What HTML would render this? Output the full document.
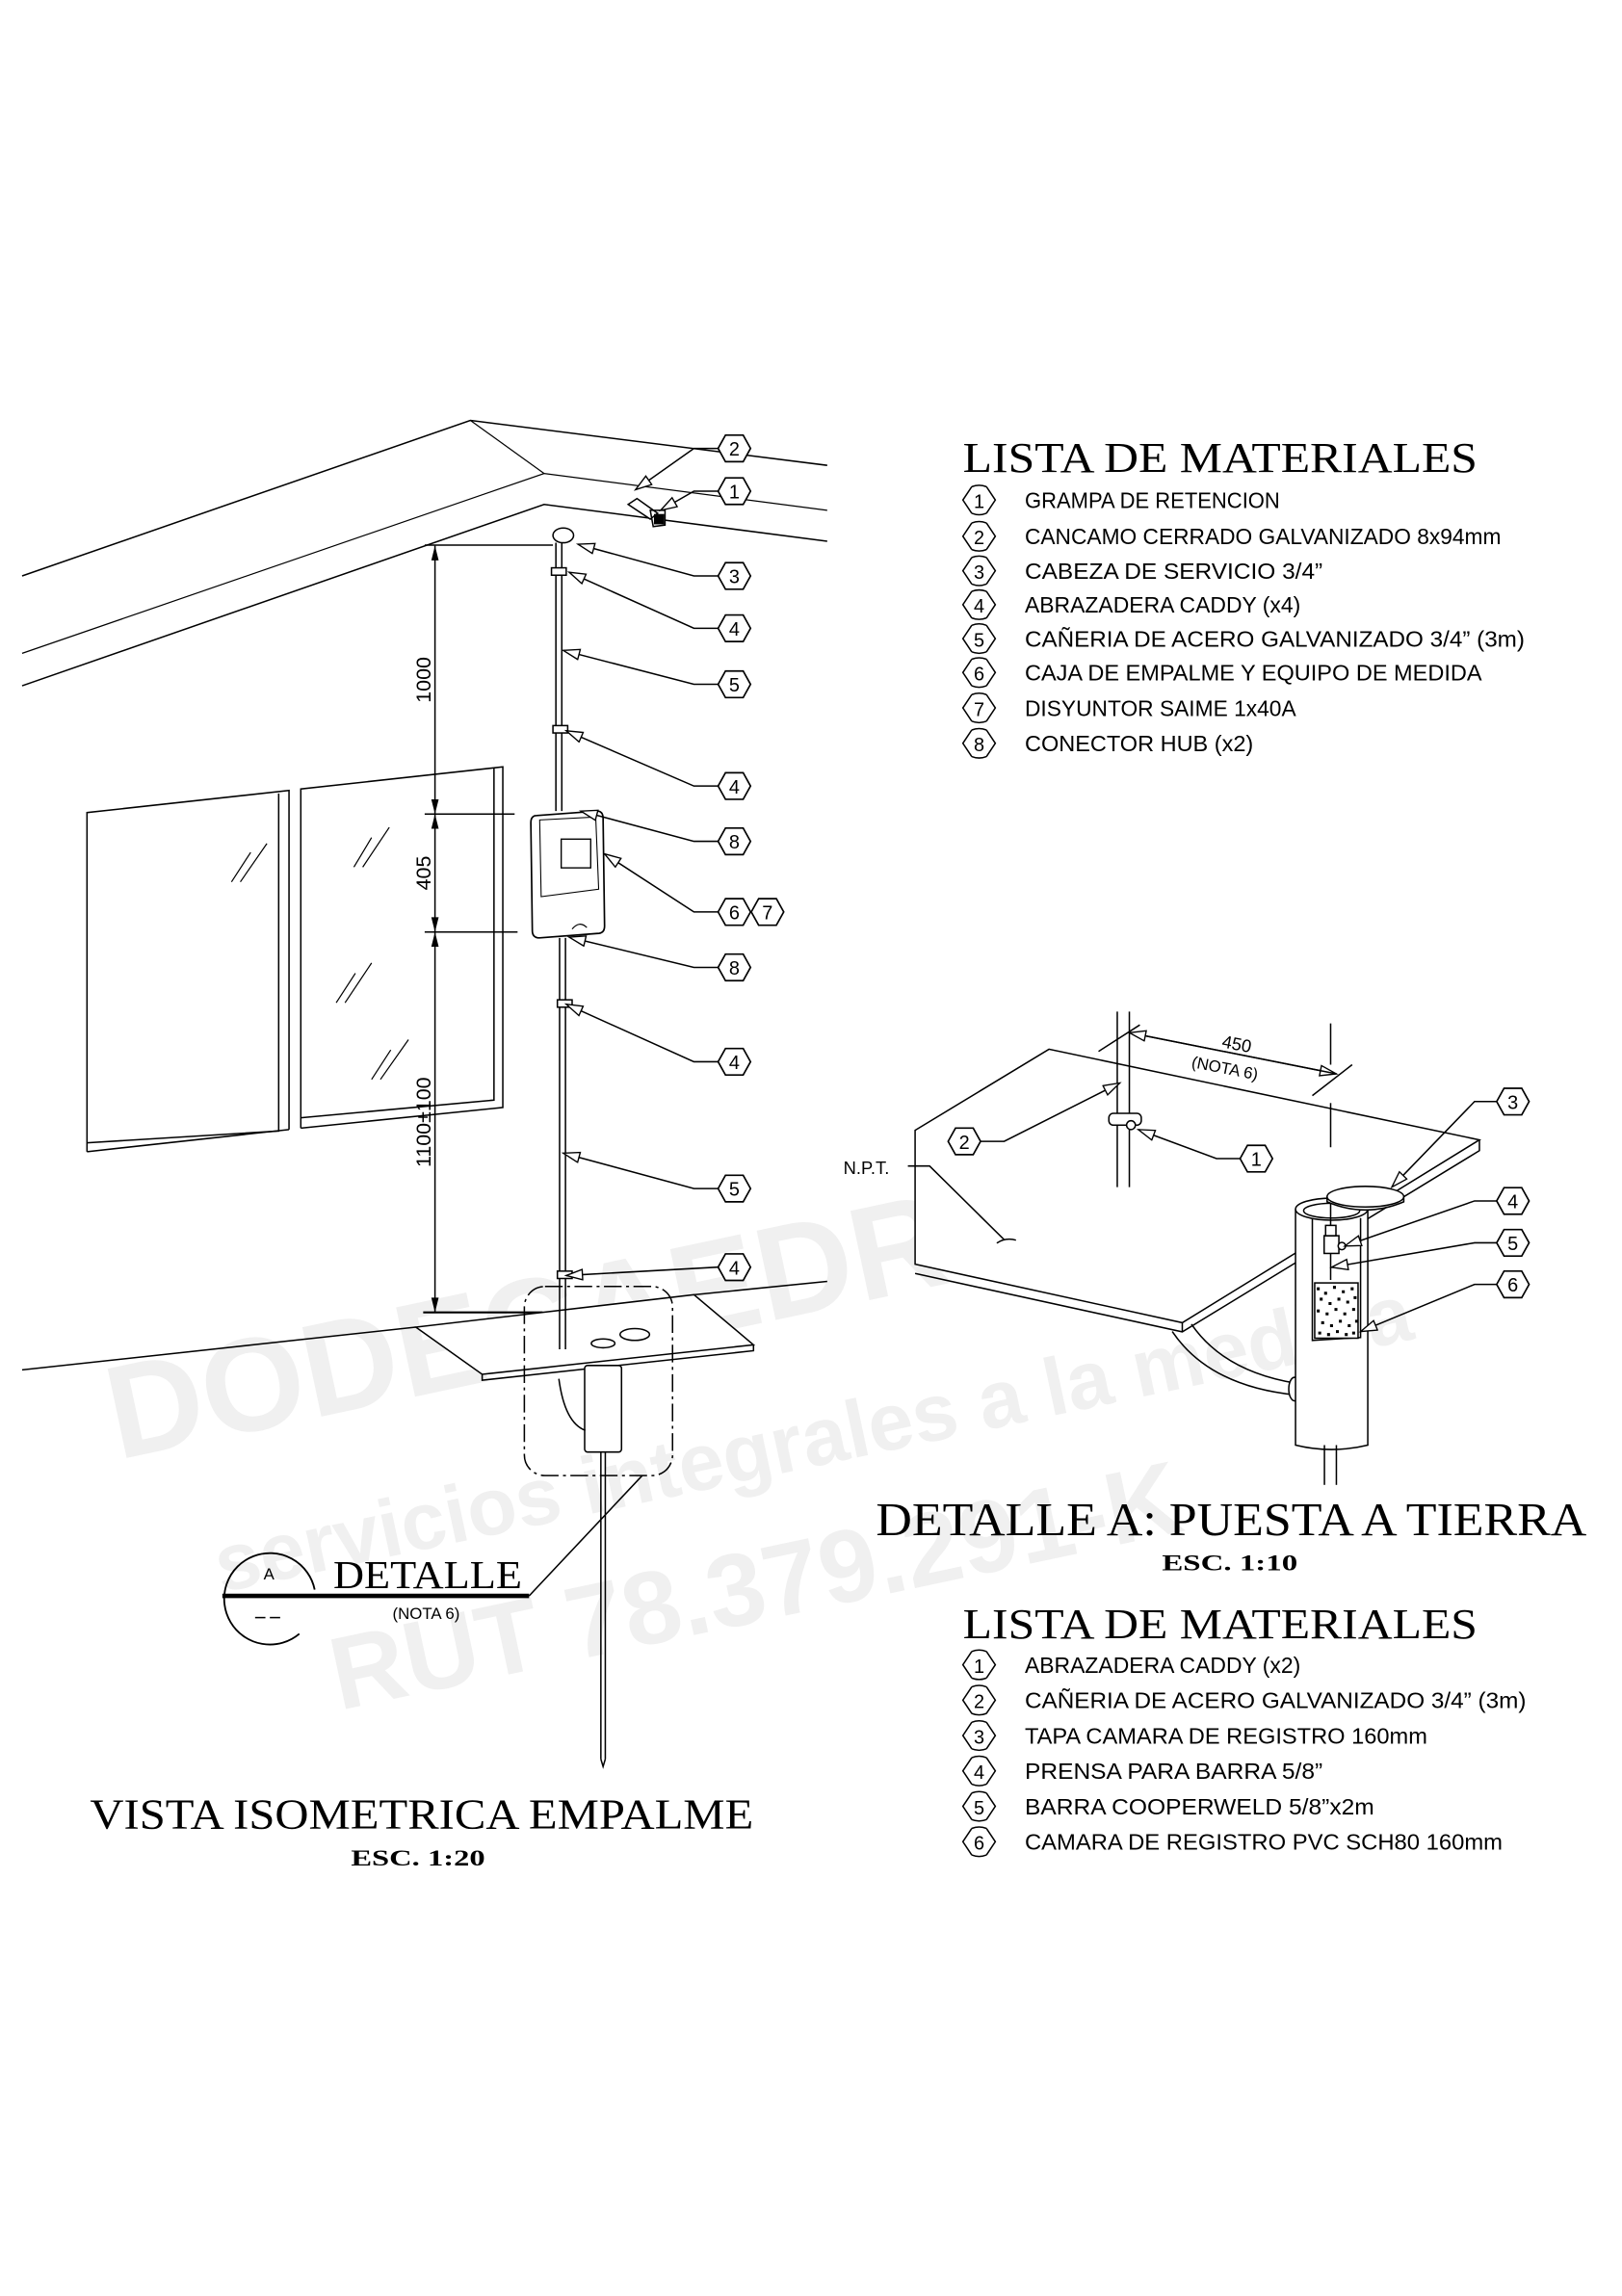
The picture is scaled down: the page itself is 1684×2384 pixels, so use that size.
<!DOCTYPE html>
<html><head><meta charset="utf-8"><style>
html,body{margin:0;padding:0;background:#fff;}
svg{display:block;}
.s{font-family:"Liberation Sans Narrow","Liberation Sans",sans-serif;}
.r{font-family:"Liberation Serif",serif;}
</style></head><body>
<svg width="1684" height="2384" viewBox="0 0 1100 1557" xmlns="http://www.w3.org/2000/svg">
<defs>
<marker id="ar" markerUnits="userSpaceOnUse" markerWidth="14" markerHeight="10" refX="12" refY="4" orient="auto">
<path d="M1,0.5 L12,4 L1,7.5 Z" fill="#fff" stroke="#000" stroke-width="0.9"/>
</marker>
<g id="hx"><polygon points="-11,0 -6,-9 6,-9 11,0 6,9 -6,9" fill="#fff" stroke="#000" stroke-width="1.1"/></g>
<g id="lh"><path d="M-5,-9 L-11,0 L-5,9 M5,-9 L11,0 L5,9 M-5,-9 Q0,-11 5,-9 M-5,9 Q0,11 5,9" fill="none" stroke="#000" stroke-width="1"/></g>
</defs>
<rect width="1100" height="1557" fill="#fff"/>

<!-- faint watermark -->
<g fill="#efefef" font-family="Liberation Sans" font-weight="bold" opacity="0.9">
<text x="80" y="990" font-size="90" transform="rotate(-12 80 990)">DODECAEDRO</text>
<text x="150" y="1080" font-size="55" transform="rotate(-12 150 1080)">servicios integrales a la medida</text>
<text x="230" y="1160" font-size="70" transform="rotate(-12 230 1160)">RUT 78.379.291-K</text>
</g>

<g stroke="#000" fill="none" stroke-width="1">
<!-- roof -->
<polyline points="15,390.5 319,285 561,315.5"/>
<polyline points="15,443 369,321 561,346" stroke-width="0.8"/>
<polyline points="15,465 369,342 561,367"/>
<line x1="319" y1="285" x2="369" y2="321" stroke-width="0.8"/>
<!-- windows -->
<polyline points="59,781 59,551 196,536 196,766"/>
<polyline points="59,775 189,767 189,538"/>
<line x1="59" y1="781" x2="196" y2="766"/>
<polyline points="204,765 204,535 341,520 341,751 204,765"/>
<polyline points="204,758 335,746 335,521"/>
<!-- glass marks -->
<path d="M157,598 L170,578 M163,598 L181,572 M240,588 L252,568 M246,588 L264,561 M228,680 L241,660 M234,680 L252,653 M252,732 L265,712 M258,732 L277,705" stroke-width="0.8"/>
<!-- dimensions -->
<line x1="295" y1="370" x2="295" y2="890"/>
<line x1="288" y1="369.6" x2="375" y2="369.6"/>
<line x1="288" y1="552" x2="349" y2="552"/>
<line x1="288" y1="632" x2="351" y2="632"/>
<line x1="287" y1="890" x2="368" y2="890" stroke-width="1.4"/>
<path d="M295,370 l-2.5,10 l5,0 z M295,552 l-2.5,-10 l5,0 z M295,552 l-2.5,10 l5,0z M295,632 l-2.5,-10 l5,0z M295,632 l-2.5,10 l5,0z M295,890 l-2.5,-10 l5,0z" fill="#000" stroke="none"/>
<!-- ground -->
<polyline points="15,929 282,900"/>
<polyline points="470.6,878 561,869"/>
<polygon points="282,900 327,932 511,912 470.6,878" fill="#fff"/>
<polyline points="327,932 327,936 511,916 511,912"/>
<!-- pipe -->
<line x1="377" y1="368" x2="377" y2="550"/><line x1="381" y1="368" x2="381" y2="550"/>
<line x1="379.5" y1="636" x2="379.5" y2="915"/><line x1="383.5" y1="636" x2="383.5" y2="915"/>
<ellipse cx="382" cy="363" rx="7" ry="5" fill="#fff"/>
<rect x="374" y="385" width="10" height="5" fill="#fff"/>
<rect x="375" y="492" width="10" height="5" fill="#fff"/>
<rect x="378" y="678" width="10" height="5" fill="#fff"/>
<rect x="378" y="862" width="10" height="5" fill="#fff"/>
<!-- grampa -->
<path d="M426,342 L432,338 L446,348 L441,352 Z M441,346 L451,346 L451,356 L443,357 Z" fill="#fff"/>
<rect x="444" y="349" width="6" height="6" fill="#000"/>
<!-- meter box -->
<path d="M364,553 L405,550 Q409,550 409,555 L410,628 Q410,633 405,633 L366,636 Q361,636 361,631 L360,558 Q360,553 364,553 Z" fill="#fff" stroke-width="1.1"/>
<path d="M366,556 L404,554 L406,603 L367,608 Z" stroke-width="0.7"/>
<rect x="380.6" y="569" width="20" height="19.5" stroke-width="0.9"/>
<path d="M388,630 Q393,624 398,629" stroke-width="0.8"/>
<!-- detail box -->
<rect x="355.6" y="872.4" width="100.5" height="128.3" rx="14" stroke-dasharray="12,3,2,3"/>
<ellipse cx="409" cy="911" rx="8" ry="3"/><ellipse cx="430.5" cy="905" rx="10" ry="4" fill="#fff"/>
<rect x="396.5" y="926" width="25" height="58.7" rx="2" fill="#fff"/>
<path d="M379,935 Q383,965 397,970" />
<line x1="407.5" y1="985" x2="407.5" y2="1193"/><line x1="410.5" y1="985" x2="410.5" y2="1193"/>
<path d="M407.5,1193 L409,1198 L410.5,1193"/>
<polyline points="435.5,1000.7 358.8,1082.3"/>
<line x1="150.8" y1="1082.3" x2="358.8" y2="1082.3" stroke-width="3"/>
<path d="M213.4,1078 A31,31 0 1 0 203,1108" stroke-width="1.2"/>
<line x1="173" y1="1097" x2="180" y2="1097"/><line x1="183" y1="1097" x2="190" y2="1097"/>
</g>
<text x="182.4" y="1071" font-size="11" text-anchor="middle" class="s">A</text>
<text x="226" y="1077" font-size="27" class="r" textLength="128" lengthAdjust="spacingAndGlyphs">DETALLE</text>
<text x="289" y="1098" font-size="11" text-anchor="middle" class="s">(NOTA 6)</text>
<g class="s" font-size="14" text-anchor="middle">
<text transform="translate(292,461) rotate(-90)">1000</text>
<text transform="translate(292,592) rotate(-90)">405</text>
<text transform="translate(292,761) rotate(-90)">1100±100</text>
</g>

<!-- callouts left -->
<g stroke="#000" fill="none" stroke-width="1" marker-end="url(#ar)">
<polyline points="487,304 470.6,304 431,332"/>
<polyline points="487,333 470.6,333 448,346"/>
<polyline points="487,390.5 470.6,390.5 392,369"/>
<polyline points="487,426 470.6,426 386,388"/>
<polyline points="487,464 470.6,464 382,441"/>
<polyline points="487,533 470.6,533 384,495.5"/>
<polyline points="487,570.5 470.6,570.5 394,550"/>
<polyline points="487,618.4 470.6,618.4 410,579"/>
<polyline points="487,656 470.6,656 386,635.5"/>
<polyline points="487,720 470.6,720 384,681"/>
<polyline points="487,806 470.6,806 382,782"/>
<polyline points="487,859.3 384,865"/>
</g>
<g class="s" font-size="13" text-anchor="middle">
<use href="#hx" x="498" y="304"/><text x="498" y="309">2</text>
<use href="#hx" x="498" y="333"/><text x="498" y="338">1</text>
<use href="#hx" x="498" y="390.5"/><text x="498" y="395.5">3</text>
<use href="#hx" x="498" y="426"/><text x="498" y="431">4</text>
<use href="#hx" x="498" y="464"/><text x="498" y="469">5</text>
<use href="#hx" x="498" y="533"/><text x="498" y="538">4</text>
<use href="#hx" x="498" y="570.5"/><text x="498" y="575.5">8</text>
<use href="#hx" x="498" y="618.4"/><text x="498" y="623.4">6</text>
<use href="#hx" x="520.5" y="618.4"/><text x="520.5" y="623.4">7</text>
<use href="#hx" x="498" y="656"/><text x="498" y="661">8</text>
<use href="#hx" x="498" y="720"/><text x="498" y="725">4</text>
<use href="#hx" x="498" y="806"/><text x="498" y="811">5</text>
<use href="#hx" x="498" y="859.3"/><text x="498" y="864.3">4</text>
</g>

<text x="61" y="1240" font-size="29" class="r" textLength="450" lengthAdjust="spacingAndGlyphs">VISTA ISOMETRICA EMPALME</text>
<text x="238" y="1265" font-size="15" font-weight="bold" class="r" textLength="91" lengthAdjust="spacingAndGlyphs">ESC. 1:20</text>

<!-- list 1 -->
<text x="653" y="320" font-size="29" class="r" textLength="349" lengthAdjust="spacingAndGlyphs">LISTA DE MATERIALES</text>
<g class="s" font-size="15">
<use href="#lh" x="664" y="339"/><text x="664" y="344.5" text-anchor="middle" font-size="13">1</text><text x="695" y="344.5" textLength="173" lengthAdjust="spacingAndGlyphs">GRAMPA DE RETENCION</text>
<use href="#lh" x="664" y="363.6"/><text x="664" y="369" text-anchor="middle" font-size="13">2</text><text x="695" y="369" textLength="323" lengthAdjust="spacingAndGlyphs">CANCAMO CERRADO GALVANIZADO 8x94mm</text>
<use href="#lh" x="664" y="387"/><text x="664" y="392.4" text-anchor="middle" font-size="13">3</text><text x="695" y="392.4" textLength="202" lengthAdjust="spacingAndGlyphs">CABEZA DE SERVICIO 3/4”</text>
<use href="#lh" x="664" y="410"/><text x="664" y="415.4" text-anchor="middle" font-size="13">4</text><text x="695" y="415.4" textLength="187" lengthAdjust="spacingAndGlyphs">ABRAZADERA CADDY (x4)</text>
<use href="#lh" x="664" y="433"/><text x="664" y="438.4" text-anchor="middle" font-size="13">5</text><text x="695" y="438.4" textLength="339" lengthAdjust="spacingAndGlyphs">CAÑERIA DE ACERO GALVANIZADO 3/4” (3m)</text>
<use href="#lh" x="664" y="456"/><text x="664" y="461.4" text-anchor="middle" font-size="13">6</text><text x="695" y="461.4" textLength="310" lengthAdjust="spacingAndGlyphs">CAJA DE EMPALME Y EQUIPO DE MEDIDA</text>
<use href="#lh" x="664" y="480"/><text x="664" y="485.4" text-anchor="middle" font-size="13">7</text><text x="695" y="485.4" textLength="184" lengthAdjust="spacingAndGlyphs">DISYUNTOR SAIME 1x40A</text>
<use href="#lh" x="664" y="504"/><text x="664" y="509.4" text-anchor="middle" font-size="13">8</text><text x="695" y="509.4" textLength="155" lengthAdjust="spacingAndGlyphs">CONECTOR HUB (x2)</text>
</g>

<!-- detail A -->
<g stroke="#000" fill="none" stroke-width="1">
<polygon points="620.6,766.5 711.4,711.5 1003.3,773 801.8,897 620.6,857.3" fill="#fff"/>
<polyline points="620.6,863.6 801.8,903.2 1003.3,780.3 1003.3,773"/>
<line x1="801.8" y1="897" x2="801.8" y2="903.2"/>
<!-- vertical pipe -->
<line x1="757.7" y1="686" x2="757.7" y2="805"/><line x1="765.9" y1="686" x2="765.9" y2="805"/>
<rect x="752" y="755" width="22" height="8" rx="3" fill="#fff"/>
<circle cx="767" cy="763" r="3" fill="#fff"/>
<!-- dim -->
<line x1="745" y1="713" x2="773" y2="695"/>
<line x1="765.9" y1="700.3" x2="906.3" y2="728.2" marker-end="url(#ar)"/>
<line x1="906.3" y1="728.2" x2="765.9" y2="700.3" marker-end="url(#ar)"/>
<line x1="890" y1="743" x2="917" y2="722"/>
<line x1="902.4" y1="694" x2="902.4" y2="722"/>
<line x1="902.4" y1="748" x2="902.4" y2="778"/>
<!-- NPT leader -->
<polyline points="615.7,790.7 630.4,790.7 681,840.7"/>
<path d="M676,843 Q682,839 689,841"/>
<!-- side pipe -->
<path d="M795,903 Q820,940 878.6,946"/>
<path d="M808,898 Q830,930 878.6,938"/>
<ellipse cx="878" cy="942" rx="4" ry="8" fill="#fff"/>
<!-- chamber -->
<path d="M878.6,820 L878.6,980 Q903,986 927.6,980 L927.6,820" fill="#fff"/>
<ellipse cx="903.1" cy="820" rx="24.5" ry="7.5" fill="#fff"/>
<ellipse cx="903.1" cy="821" rx="19" ry="5"/>
<path d="M890,826 L890,909 L922.7,907 L922.7,826"/>
<rect x="891.6" y="870" width="29.4" height="37.5" fill="#fff"/>
<line x1="902.4" y1="811" x2="902.4" y2="868"/>
<rect x="898" y="838" width="10" height="12" fill="#fff"/>
<rect x="899" y="831" width="7" height="7" fill="#fff"/>
<circle cx="910" cy="845" r="2.5" fill="#fff"/>
<line x1="898.2" y1="980" x2="898.2" y2="1007"/><line x1="906.3" y1="980" x2="906.3" y2="1007"/>
<!-- lid -->
<path d="M900,811.5 L900,815 Q926,826 952,815 L952,811.5" fill="#fff"/>
<ellipse cx="926" cy="811.5" rx="26" ry="7" fill="#fff"/>
</g>
<!-- gravel -->
<g fill="#000">
<path d="M893,873 h2v2h-2z M898,876 h2v2h-2z M904,872 h2v2h-2z M910,875 h2v2h-2z M916,873 h2v2h-2z M895,880 h2v2h-2z M901,883 h2v2h-2z M907,880 h2v2h-2z M913,882 h2v2h-2z M918,879 h2v2h-2z M893,888 h2v2h-2z M899,890 h2v2h-2z M905,887 h2v2h-2z M911,890 h2v2h-2z M917,887 h2v2h-2z M896,896 h2v2h-2z M902,898 h2v2h-2z M908,895 h2v2h-2z M914,898 h2v2h-2z M919,895 h2v2h-2z M894,903 h2v2h-2z M900,904 h2v2h-2z M906,902 h2v2h-2z M912,904 h2v2h-2z M917,903 h2v2h-2z"/>
</g>
<g stroke="#000" fill="none" stroke-width="1" marker-end="url(#ar)">
<polyline points="643,774 681,774 759.4,734.4"/>
<polyline points="841,785.7 825,785.7 772,766"/>
<polyline points="1015,747 1000,747 943.9,805"/>
<polyline points="1015,814.4 1000,814.4 912,845"/>
<polyline points="1015,842.8 1000,842.8 903,859.4"/>
<polyline points="1015,871 1000,871 922.7,903"/>
</g>
<g class="s" font-size="13" text-anchor="middle">
<use href="#hx" x="654" y="774"/><text x="654" y="779">2</text>
<use href="#hx" x="852" y="785.7"/><text x="852" y="790.7">1</text>
<use href="#hx" x="1026" y="747"/><text x="1026" y="752">3</text>
<use href="#hx" x="1026" y="814.4"/><text x="1026" y="819.4">4</text>
<use href="#hx" x="1026" y="842.8"/><text x="1026" y="847.8">5</text>
<use href="#hx" x="1026" y="871"/><text x="1026" y="876">6</text>
</g>
<text x="572" y="796" font-size="12" class="s">N.P.T.</text>
<text x="838" y="712" font-size="12" class="s" text-anchor="middle" transform="rotate(11 838 712)">450</text>
<text x="830" y="728" font-size="11" class="s" text-anchor="middle" transform="rotate(11 830 728)">(NOTA 6)</text>

<text x="594" y="1041" font-size="32" class="r" textLength="482" lengthAdjust="spacingAndGlyphs">DETALLE A: PUESTA A TIERRA</text>
<text x="788" y="1065" font-size="15" font-weight="bold" class="r" textLength="92" lengthAdjust="spacingAndGlyphs">ESC. 1:10</text>

<text x="653" y="1111" font-size="29" class="r" textLength="349" lengthAdjust="spacingAndGlyphs">LISTA DE MATERIALES</text>
<g class="s" font-size="15">
<use href="#lh" x="664" y="1129"/><text x="664" y="1134.4" text-anchor="middle" font-size="13">1</text><text x="695" y="1134.4" textLength="187" lengthAdjust="spacingAndGlyphs">ABRAZADERA CADDY (x2)</text>
<use href="#lh" x="664" y="1153"/><text x="664" y="1158.4" text-anchor="middle" font-size="13">2</text><text x="695" y="1158.4" textLength="340" lengthAdjust="spacingAndGlyphs">CAÑERIA DE ACERO GALVANIZADO 3/4” (3m)</text>
<use href="#lh" x="664" y="1177"/><text x="664" y="1182.4" text-anchor="middle" font-size="13">3</text><text x="695" y="1182.4" textLength="273" lengthAdjust="spacingAndGlyphs">TAPA CAMARA DE REGISTRO 160mm</text>
<use href="#lh" x="664" y="1201"/><text x="664" y="1206.4" text-anchor="middle" font-size="13">4</text><text x="695" y="1206.4" textLength="202" lengthAdjust="spacingAndGlyphs">PRENSA PARA BARRA 5/8”</text>
<use href="#lh" x="664" y="1225"/><text x="664" y="1230.4" text-anchor="middle" font-size="13">5</text><text x="695" y="1230.4" textLength="237" lengthAdjust="spacingAndGlyphs">BARRA COOPERWELD 5/8”x2m</text>
<use href="#lh" x="664" y="1249"/><text x="664" y="1254.4" text-anchor="middle" font-size="13">6</text><text x="695" y="1254.4" textLength="324" lengthAdjust="spacingAndGlyphs">CAMARA DE REGISTRO PVC SCH80 160mm</text>
</g>
</svg>
</body></html>
